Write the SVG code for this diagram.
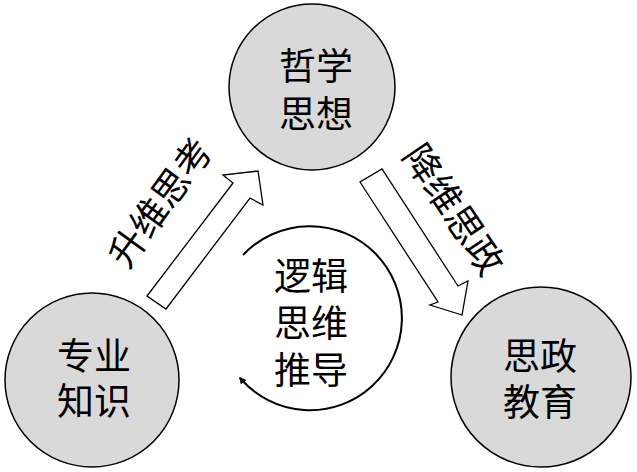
<svg xmlns="http://www.w3.org/2000/svg" width="637" height="472" viewBox="0 0 637 472">
<defs>
<style>
.node circle{fill:#d9d9d9;stroke:#000;stroke-width:1.5}
text{font-family:"Liberation Serif","Noto Sans CJK SC","Noto Sans CJK JP",serif;font-size:37px;fill:#000;text-anchor:middle}
.blk{fill:#fff;stroke:#000;stroke-width:1.3;stroke-linejoin:miter}
.cyc{fill:none;stroke:#000;stroke-width:2}
</style>
<marker id="ah" viewBox="0 0 10 10" refX="8" refY="5" markerWidth="7" markerHeight="7" orient="auto" markerUnits="userSpaceOnUse">
<path d="M0,0 L10,5 L0,10 z" fill="#000"/>
</marker>
</defs>
<rect width="637" height="472" fill="#fff"/>
<g id="philosophy" class="node">
<circle cx="312" cy="87" r="83"/>
<text x="316" y="80">哲学<tspan x="316" y="128">思想</tspan></text>
</g>
<g id="major" class="node">
<circle cx="92" cy="380" r="87"/>
<text x="94" y="370">专业<tspan x="94" y="415">知识</tspan></text>
</g>
<g id="ideology" class="node">
<circle cx="541" cy="377" r="90"/>
<text x="540" y="370">思政<tspan x="540" y="416">教育</tspan></text>
</g>
<g id="logic">
<text x="311" y="290">逻辑<tspan x="311" y="337">思维</tspan><tspan x="311" y="384">推导</tspan></text>
</g>
<g id="connectors">
<polygon class="blk" points="147,296 233,183 223,175 258,171 263,205 250,198 166,309"/>
<polygon class="blk" points="360,182 438,302 430,305 462,315 468,281 458,286 382,169"/>
<path class="cyc" d="M243,255 A92,92 0 1 1 240,378" marker-end="url(#ah)"/>
<text transform="translate(161,203) rotate(-54)" dominant-baseline="central">升维思考</text>
<text transform="translate(453,210) rotate(56)" dominant-baseline="central">降维思政</text>
</g>
</svg>
